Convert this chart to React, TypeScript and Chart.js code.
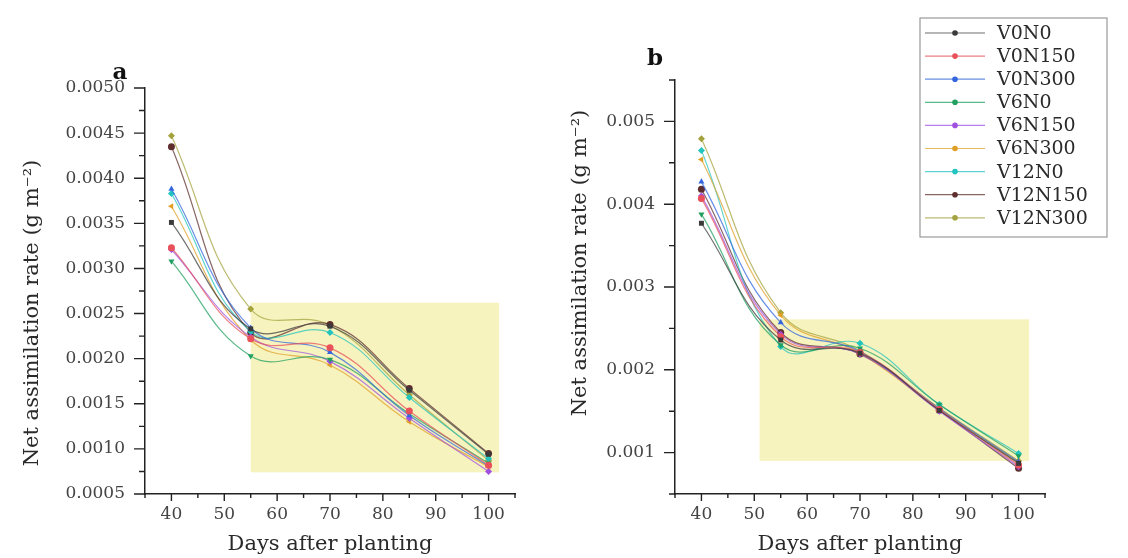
import React, { useEffect, useRef } from "react";
import { Chart, registerables } from "chart.js";

Chart.register(...registerables);

// ---------- data ----------
const DAYS = [40, 55, 70, 85, 100];
const SERIES_NAMES = ["V0N0", "V0N150", "V0N300", "V6N0", "V6N150", "V6N300", "V12N0", "V12N150", "V12N300"];
const SERIES_COLORS = ["#3a3a3a", "#e8505a", "#3366dd", "#1fa060", "#a050e0", "#e0a028", "#22c4be", "#5e2e2e", "#a3a23c"];
const POINT_STYLES = ["rect", "circle", "triangle", "triangle", "rectRot", "triangle", "rect", "circle", "rectRot"];
const POINT_ROT = [0, 0, 0, 180, 0, 270, 45, 0, 0];

// Panel a
const A_V0N0 = [0.00351, 0.00233, 0.00236, 0.00165, 0.00094];
const A_V0N150 = [0.00323, 0.00222, 0.00212, 0.00142, 0.00082];
const A_V0N300 = [0.00388, 0.00234, 0.00207, 0.00137, 0.00081];
const A_V6N0 = [0.00308, 0.00203, 0.00199, 0.00139, 0.00084];
const A_V6N150 = [0.00321, 0.00224, 0.00197, 0.00134, 0.00075];
const A_V6N300 = [0.00369, 0.00221, 0.00193, 0.0013, 0.0008];
const A_V12N0 = [0.00383, 0.0023, 0.00229, 0.00157, 0.00089];
const A_V12N150 = [0.00435, 0.00229, 0.00238, 0.00167, 0.00095];
const A_V12N300 = [0.00447, 0.00255, 0.00237, 0.0016, 0.00087];

// Panel b
const B_V0N0 = [0.00377, 0.00236, 0.0022, 0.00151, 0.00087];
const B_V0N150 = [0.00407, 0.0024, 0.00221, 0.00152, 0.00085];
const B_V0N300 = [0.00427, 0.00257, 0.00222, 0.00153, 0.00089];
const B_V6N0 = [0.00388, 0.0023, 0.00226, 0.00158, 0.00096];
const B_V6N150 = [0.0041, 0.00243, 0.00219, 0.0015, 0.00083];
const B_V6N300 = [0.00454, 0.00266, 0.0022, 0.00152, 0.00088];
const B_V12N0 = [0.00465, 0.00228, 0.00232, 0.00158, 0.00099];
const B_V12N150 = [0.00418, 0.00245, 0.00219, 0.00151, 0.00081];
const B_V12N300 = [0.00479, 0.00269, 0.00223, 0.00154, 0.0009];

const A_DATA = [A_V0N0, A_V0N150, A_V0N300, A_V6N0, A_V6N150, A_V6N300, A_V12N0, A_V12N150, A_V12N300];
const B_DATA = [B_V0N0, B_V0N150, B_V0N300, B_V6N0, B_V6N150, B_V6N300, B_V12N0, B_V12N150, B_V12N300];

// ticks
const X_TICKS = [40, 50, 60, 70, 80, 90, 100];
const X_RANGE = [35, 105];
const A_Y_TICKS = [0.0005, 0.001, 0.0015, 0.002, 0.0025, 0.003, 0.0035, 0.004, 0.0045, 0.005];
const A_Y_RANGE = [0.0005, 0.005];
const B_Y_TICKS = [0.001, 0.002, 0.003, 0.004, 0.005];
const B_Y_RANGE = [0.0005, 0.0055];

// highlighted windows [xFrom, xTo, yFrom, yTo]
const A_BOX = [55, 102, 0.00074, 0.00262];
const B_BOX = [51, 102, 0.0009, 0.00261];

const X_TITLE = "Days after planting";
const Y_TITLE = "Net assimilation rate (g m\u207B\u00B2)";

const FONT = "'DejaVu Serif', 'Liberation Serif', serif";

function minorsOf(major: number[], lo: number, hi: number) {
  const step = major[1] - major[0];
  const out: number[] = [];
  const start = major[0] - step / 2;
  for (let v = start; v <= hi + 1e-12; v += step) {
    if (v >= lo - 1e-12) out.push(v);
  }
  return out;
}

function makeConfig(opts: any) {
  const { data, yTicks, yRange, decimals, box, pad, yWidth, letter, letterPos, yTitlePos, xTitleX, legend } = opts;
  const datasets = data.map((vals: number[], i: number) => ({
    label: SERIES_NAMES[i],
    data: vals,
    borderColor: SERIES_COLORS[i] + "bb",
    backgroundColor: SERIES_COLORS[i],
    borderWidth: 1.2,
    pointStyle: POINT_STYLES[i],
    rotation: POINT_ROT[i],
    pointRadius: 3.5,
    pointBorderWidth: 0,
    tension: 0.42,
    fill: false,
  }));

  const decor = {
    id: "decor",
    beforeDatasetsDraw(chart: any) {
      const { ctx, scales } = chart;
      const x = scales.x, y = scales.y;
      ctx.save();
      ctx.fillStyle = "#f7f3bf";
      const x0 = x.getPixelForValue(box[0]);
      const x1 = x.getPixelForValue(box[1]);
      const y0 = y.getPixelForValue(box[3]);
      const y1 = y.getPixelForValue(box[2]);
      ctx.fillRect(x0, y0, x1 - x0, y1 - y0);
      ctx.restore();
    },
    afterDraw(chart: any) {
      const { ctx, scales, chartArea } = chart;
      const x = scales.x, y = scales.y;
      ctx.save();
      ctx.strokeStyle = "#222";
      ctx.lineWidth = 1.4;
      // x ticks
      ctx.beginPath();
      X_TICKS.forEach((v) => {
        const px = x.getPixelForValue(v);
        ctx.moveTo(px, chartArea.bottom);
        ctx.lineTo(px, chartArea.bottom + 7);
      });
      minorsOf(X_TICKS, X_RANGE[0], X_RANGE[1]).forEach((v) => {
        const px = x.getPixelForValue(v);
        ctx.moveTo(px, chartArea.bottom);
        ctx.lineTo(px, chartArea.bottom + 4);
      });
      // y ticks
      yTicks.forEach((v: number) => {
        const py = y.getPixelForValue(v);
        ctx.moveTo(chartArea.left, py);
        ctx.lineTo(chartArea.left - 11, py);
      });
      minorsOf(yTicks, yRange[0], yRange[1]).forEach((v) => {
        const py = y.getPixelForValue(v);
        ctx.moveTo(chartArea.left, py);
        ctx.lineTo(chartArea.left - 6, py);
      });
      ctx.stroke();

      // titles
      ctx.fillStyle = "#2a2a2a";
      ctx.font = `21px ${FONT}`;
      ctx.textAlign = "center";
      ctx.textBaseline = "middle";
      ctx.fillText(X_TITLE, xTitleX, 545);
      ctx.save();
      ctx.translate(yTitlePos[0], yTitlePos[1]);
      ctx.rotate(-Math.PI / 2);
      ctx.font = `21px ${FONT}`;
      ctx.fillText(Y_TITLE, 0, 0);
      ctx.restore();

      // panel letter
      ctx.font = `bold 23px ${FONT}`;
      ctx.fillStyle = "#111";
      ctx.fillText(letter, letterPos[0], letterPos[1]);

      // legend
      if (legend) {
        const bx = 360, by = 18, bw = 187, bh = 219;
        ctx.strokeStyle = "#999";
        ctx.lineWidth = 1.2;
        ctx.strokeRect(bx, by, bw, bh);
        SERIES_NAMES.forEach((name, i) => {
          const ly = 33 + i * 23.1;
          ctx.strokeStyle = SERIES_COLORS[i] + "bb";
          ctx.lineWidth = 1.2;
          ctx.beginPath();
          ctx.moveTo(365, ly);
          ctx.lineTo(425, ly);
          ctx.stroke();
          ctx.fillStyle = SERIES_COLORS[i];
          ctx.beginPath();
          ctx.arc(395, ly, 2.8, 0, Math.PI * 2);
          ctx.fill();
          ctx.fillStyle = "#2a2a2a";
          ctx.font = `19px ${FONT}`;
          ctx.textAlign = "left";
          ctx.fillText(name, 437, ly + 1);
        });
      }
      ctx.restore();
    },
  };

  return {
    type: "line",
    data: { labels: DAYS, datasets },
    options: {
      responsive: false,
      animation: false,
      events: [],
      layout: { padding: pad },
      plugins: { legend: { display: false }, tooltip: { enabled: false } },
      scales: {
        x: {
          type: "linear",
          min: X_RANGE[0],
          max: X_RANGE[1],
          afterBuildTicks: (s: any) => {
            s.ticks = X_TICKS.map((v) => ({ value: v }));
          },
          afterFit: (s: any) => {
            s.height = 64;
          },
          grid: { display: false, drawTicks: false },
          border: { display: true, color: "#222", width: 1.5 },
          ticks: { font: { family: FONT, size: 17 }, color: "#444", padding: 10, autoSkip: false, maxRotation: 0 },
        },
        y: {
          type: "linear",
          min: yRange[0],
          max: yRange[1],
          afterBuildTicks: (s: any) => {
            s.ticks = yTicks.map((v: number) => ({ value: v }));
          },
          afterFit: (s: any) => {
            s.width = yWidth;
          },
          grid: { display: false, drawTicks: false },
          border: { display: true, color: "#222", width: 1.5 },
          ticks: {
            font: { family: FONT, size: 17 },
            color: "#444",
            padding: 20,
            autoSkip: false,
            callback: (v: any) => Number(v).toFixed(decimals),
          },
        },
      },
    },
    plugins: [decor],
  };
}

export default function App() {
  const refA = useRef<HTMLCanvasElement | null>(null);
  const refB = useRef<HTMLCanvasElement | null>(null);

  useEffect(() => {
    const a = new Chart(
      refA.current as any,
      makeConfig({
        data: A_DATA,
        yTicks: A_Y_TICKS,
        yRange: A_Y_RANGE,
        decimals: 4,
        box: A_BOX,
        pad: { left: 0, top: 88, right: 45, bottom: 0 },
        yWidth: 145,
        letter: "a",
        letterPos: [120, 73],
        yTitlePos: [33, 313],
        xTitleX: 330,
        legend: false,
      }) as any
    );
    const b = new Chart(
      refB.current as any,
      makeConfig({
        data: B_DATA,
        yTicks: B_Y_TICKS,
        yRange: B_Y_RANGE,
        decimals: 3,
        box: B_BOX,
        pad: { left: 0, top: 80, right: 83, bottom: 0 },
        yWidth: 115,
        letter: "b",
        letterPos: [95, 59],
        yTitlePos: [21, 263],
        xTitleX: 300,
        legend: true,
      }) as any
    );
    return () => {
      a.destroy();
      b.destroy();
    };
  }, []);

  return (
    <div style={{ position: "absolute", left: 0, top: 0, width: 1128, height: 558, background: "#fff" }}>
      <canvas ref={refA} width={560} height={558} style={{ position: "absolute", left: 0, top: 0 }} />
      <canvas ref={refB} width={568} height={558} style={{ position: "absolute", left: 560, top: 0 }} />
    </div>
  );
}
